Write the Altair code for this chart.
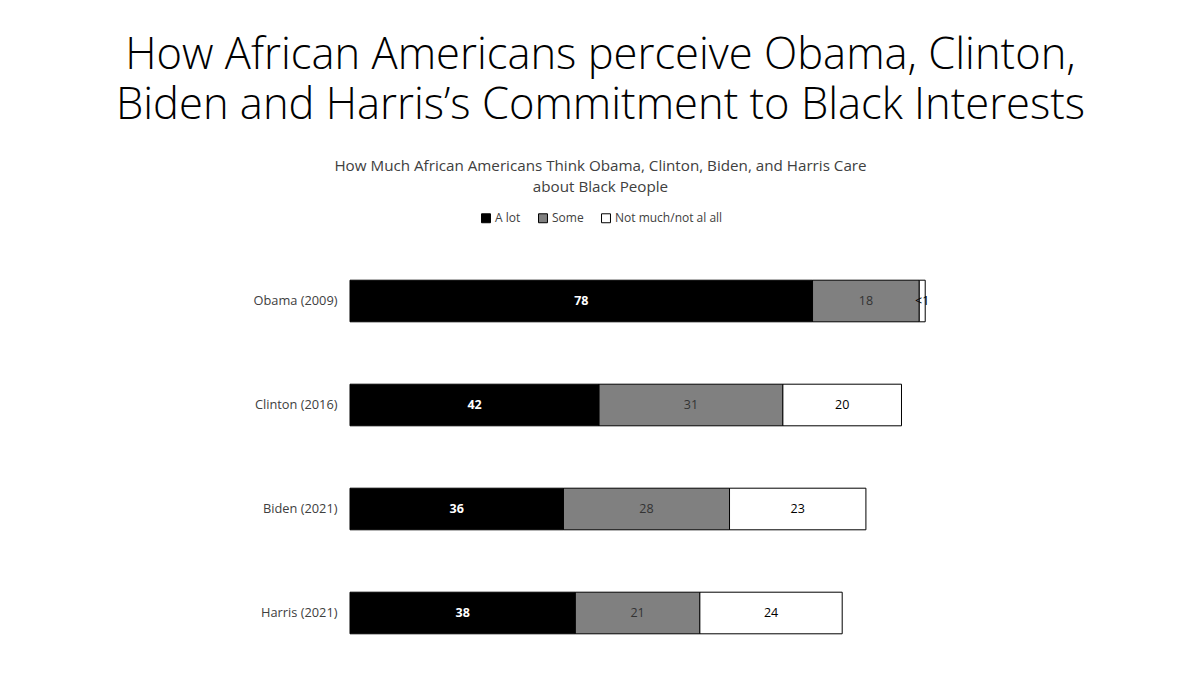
import altair as alt
import pandas as pd

people = ["Obama (2009)", "Clinton (2016)", "Biden (2021)", "Harris (2021)"]
series = ["A lot", "Some", "Not much/not al all"]
a_lot = [78, 42, 36, 38]
some = [18, 31, 28, 21]
not_much = [1, 20, 23, 24]
not_much_labels = ["<1", "20", "23", "24"]
colors = ["#000000", "#808080", "#ffffff"]
label_colors = ["#ffffff", "#333333", "#000000"]

rows = []
for i, p in enumerate(people):
    vals = [a_lot[i], some[i], not_much[i]]
    labs = [str(a_lot[i]), str(some[i]), not_much_labels[i]]
    for j, s in enumerate(series):
        rows.append({"person": p, "series": s, "value": vals[j], "label": labs[j], "ord": j})
df = pd.DataFrame(rows)

FONT = "Open Sans"

base = alt.Chart(df).transform_stack(
    stack="value", as_=["x0", "x1"], groupby=["person"], sort=[alt.SortField("ord")]
).transform_calculate(mid="(datum.x0 + datum.x1) / 2")

yenc = alt.Y("person:N", sort=people, title=None,
             scale=alt.Scale(paddingInner=0.6, paddingOuter=0.3),
             axis=alt.Axis(domain=False, ticks=False, labelPadding=13, labelFontSize=12.8,
                           labelColor="#404040", labelFont=FONT, minExtent=100, maxExtent=100))

bars = base.mark_bar(stroke="#000000", strokeWidth=1).encode(
    x=alt.X("x0:Q", scale=alt.Scale(domain=[0, 100]), axis=None),
    x2="x1:Q",
    y=yenc,
    fill=alt.Fill("series:N", sort=series,
                  scale=alt.Scale(domain=series, range=colors),
                  legend=alt.Legend(title=None, orient="none", direction="horizontal",
                                    legendX=130, legendY=-37, symbolType="square",
                                    symbolSize=80, symbolStrokeColor="#000000",
                                    symbolStrokeWidth=1, labelFontSize=12,
                                    labelFont=FONT, labelColor="#404040",
                                    columnPadding=15, symbolOffset=0, labelOffset=3)),
)

text_color = alt.Color("series:N", scale=alt.Scale(domain=series, range=label_colors), legend=None)

texts_bold = base.transform_filter("datum.ord == 0").mark_text(
    fontSize=12.5, font=FONT, fontWeight="bold").encode(
    x=alt.X("mid:Q"), y=alt.Y("person:N", sort=people), text="label:N", color=text_color)

texts_norm = base.transform_filter("datum.ord != 0").mark_text(
    fontSize=12.5, font=FONT).encode(
    x=alt.X("mid:Q"), y=alt.Y("person:N", sort=people), text="label:N", color=text_color)

chart = alt.layer(bars, texts_bold, texts_norm).resolve_scale(color="independent").properties(
    width=593,
    height=416,
    autosize=alt.AutoSizeParams(type="none"),
    padding={"left": 342, "top": 241, "right": 249, "bottom": 4},
    background="#ffffff",
    title=alt.TitleParams(
        text=["How African Americans perceive Obama, Clinton,",
              "Biden and Harris\u2019s Commitment to Black Interests"],
        subtitle=["How Much African Americans Think Obama, Clinton, Biden, and Harris Care",
                  "about Black People"],
        font=FONT, fontSize=43.5, fontWeight=300, color="#000000", lineHeight=50,
        subtitleFont=FONT, subtitleFontSize=15.2, subtitleColor="#404040",
        subtitleLineHeight=21, subtitlePadding=30,
        anchor="middle", dx=-46, offset=16,
    ),
).configure_view(stroke=None)

chart.save("out.html", embed_options={"renderer": "svg", "actions": False})
